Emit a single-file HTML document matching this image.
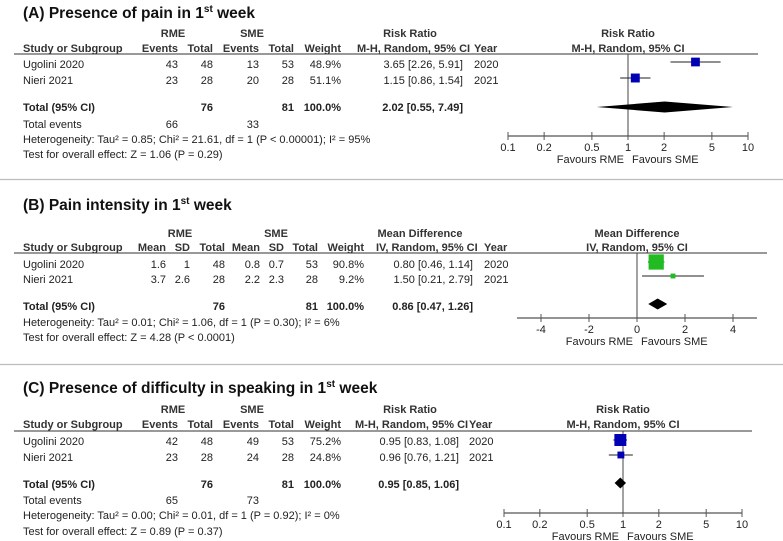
<!DOCTYPE html>
<html><head><meta charset="utf-8"><style>
html,body{margin:0;padding:0;background:#fff}
svg{display:block}
text{font-family:"Liberation Sans",Arial,sans-serif;font-size:11px;fill:#222}
.b{font-weight:bold}
.t{font-size:15.5px;font-weight:bold;fill:#111}
.h{font-weight:bold;fill:#333}
</style></head><body>
<svg id="fp" width="783" height="541" viewBox="0 0 783 541" xmlns="http://www.w3.org/2000/svg">
<line x1="0" y1="179.5" x2="783" y2="179.5" stroke="#bbb" stroke-width="1.2"/>
<line x1="0" y1="364.5" x2="783" y2="364.5" stroke="#bbb" stroke-width="1.2"/>

<g>
<text class="t" x="23" y="18">(A) Presence of pain in 1<tspan font-size="10" dy="-6">st</tspan><tspan dy="6"> week</tspan></text>
<text class="h" x="173" y="37" text-anchor="middle">RME</text>
<text class="h" x="252" y="37" text-anchor="middle">SME</text>
<text class="h" x="410" y="37" text-anchor="middle">Risk Ratio</text>
<text class="h" x="628" y="37" text-anchor="middle">Risk Ratio</text>
<text class="h" x="23" y="52">Study or Subgroup</text>
<text class="h" x="178" y="52" text-anchor="end">Events</text>
<text class="h" x="213" y="52" text-anchor="end">Total</text>
<text class="h" x="259" y="52" text-anchor="end">Events</text>
<text class="h" x="294" y="52" text-anchor="end">Total</text>
<text class="h" x="341" y="52" text-anchor="end">Weight</text>
<text class="h" x="357" y="52">M-H, Random, 95% CI</text>
<text class="h" x="474" y="52">Year</text>
<text class="h" x="628" y="52" text-anchor="middle">M-H, Random, 95% CI</text>
<line x1="14" y1="54" x2="758" y2="54" stroke="#333" stroke-width="1"/>
<text x="23" y="68">Ugolini 2020</text><text x="178" y="68" text-anchor="end">43</text><text x="213" y="68" text-anchor="end">48</text><text x="259" y="68" text-anchor="end">13</text><text x="294" y="68" text-anchor="end">53</text><text x="341" y="68" text-anchor="end">48.9%</text><text x="463" y="68" text-anchor="end">3.65 [2.26, 5.91]</text><text x="474" y="68">2020</text>
<text x="23" y="84">Nieri 2021</text><text x="178" y="84" text-anchor="end">23</text><text x="213" y="84" text-anchor="end">28</text><text x="259" y="84" text-anchor="end">20</text><text x="294" y="84" text-anchor="end">28</text><text x="341" y="84" text-anchor="end">51.1%</text><text x="463" y="84" text-anchor="end">1.15 [0.86, 1.54]</text><text x="474" y="84">2021</text>
<text class="b" x="23" y="111">Total (95% CI)</text><text class="b" x="213" y="111" text-anchor="end">76</text><text class="b" x="294" y="111" text-anchor="end">81</text><text class="b" x="341" y="111" text-anchor="end">100.0%</text><text class="b" x="463" y="111" text-anchor="end">2.02 [0.55, 7.49]</text>
<text x="23" y="128">Total events</text><text x="178" y="128" text-anchor="end">66</text><text x="259" y="128" text-anchor="end">33</text>
<text x="23" y="143">Heterogeneity: Tau² = 0.85; Chi² = 21.61, df = 1 (P &lt; 0.00001); I² = 95%</text>
<text x="23" y="158">Test for overall effect: Z = 1.06 (P = 0.29)</text>
<g id="plotA"></g>
</g>

<g>
<text class="t" x="23" y="210">(B) Pain intensity in 1<tspan font-size="10" dy="-6">st</tspan><tspan dy="6"> week</tspan></text>
<text class="h" x="180" y="237" text-anchor="middle">RME</text>
<text class="h" x="276" y="237" text-anchor="middle">SME</text>
<text class="h" x="420" y="237" text-anchor="middle">Mean Difference</text>
<text class="h" x="637" y="237" text-anchor="middle">Mean Difference</text>
<text class="h" x="23" y="251">Study or Subgroup</text>
<text class="h" x="166" y="251" text-anchor="end">Mean</text>
<text class="h" x="190" y="251" text-anchor="end">SD</text>
<text class="h" x="225" y="251" text-anchor="end">Total</text>
<text class="h" x="260" y="251" text-anchor="end">Mean</text>
<text class="h" x="284" y="251" text-anchor="end">SD</text>
<text class="h" x="318" y="251" text-anchor="end">Total</text>
<text class="h" x="364" y="251" text-anchor="end">Weight</text>
<text class="h" x="376" y="251">IV, Random, 95% CI</text>
<text class="h" x="484" y="251">Year</text>
<text class="h" x="637" y="251" text-anchor="middle">IV, Random, 95% CI</text>
<line x1="14" y1="253" x2="767" y2="253" stroke="#333" stroke-width="1"/>
<text x="23" y="268">Ugolini 2020</text><text x="166" y="268" text-anchor="end">1.6</text><text x="190" y="268" text-anchor="end">1</text><text x="225" y="268" text-anchor="end">48</text><text x="260" y="268" text-anchor="end">0.8</text><text x="284" y="268" text-anchor="end">0.7</text><text x="318" y="268" text-anchor="end">53</text><text x="364" y="268" text-anchor="end">90.8%</text><text x="473" y="268" text-anchor="end">0.80 [0.46, 1.14]</text><text x="484" y="268">2020</text>
<text x="23" y="283">Nieri 2021</text><text x="166" y="283" text-anchor="end">3.7</text><text x="190" y="283" text-anchor="end">2.6</text><text x="225" y="283" text-anchor="end">28</text><text x="260" y="283" text-anchor="end">2.2</text><text x="284" y="283" text-anchor="end">2.3</text><text x="318" y="283" text-anchor="end">28</text><text x="364" y="283" text-anchor="end">9.2%</text><text x="473" y="283" text-anchor="end">1.50 [0.21, 2.79]</text><text x="484" y="283">2021</text>
<text class="b" x="23" y="310">Total (95% CI)</text><text class="b" x="225" y="310" text-anchor="end">76</text><text class="b" x="318" y="310" text-anchor="end">81</text><text class="b" x="364" y="310" text-anchor="end">100.0%</text><text class="b" x="473" y="310" text-anchor="end">0.86 [0.47, 1.26]</text>
<text x="23" y="326">Heterogeneity: Tau² = 0.01; Chi² = 1.06, df = 1 (P = 0.30); I² = 6%</text>
<text x="23" y="341">Test for overall effect: Z = 4.28 (P &lt; 0.0001)</text>
<g id="plotB"></g>
</g>

<g>
<text class="t" x="23" y="393">(C) Presence of difficulty in speaking in 1<tspan font-size="10" dy="-6">st</tspan><tspan dy="6"> week</tspan></text>
<text class="h" x="173" y="413" text-anchor="middle">RME</text>
<text class="h" x="252" y="413" text-anchor="middle">SME</text>
<text class="h" x="410" y="413" text-anchor="middle">Risk Ratio</text>
<text class="h" x="623" y="413" text-anchor="middle">Risk Ratio</text>
<text class="h" x="23" y="428">Study or Subgroup</text>
<text class="h" x="178" y="428" text-anchor="end">Events</text>
<text class="h" x="213" y="428" text-anchor="end">Total</text>
<text class="h" x="259" y="428" text-anchor="end">Events</text>
<text class="h" x="294" y="428" text-anchor="end">Total</text>
<text class="h" x="341" y="428" text-anchor="end">Weight</text>
<text class="h" x="355" y="428">M-H, Random, 95% CI</text>
<text class="h" x="469" y="428">Year</text>
<text class="h" x="623" y="428" text-anchor="middle">M-H, Random, 95% CI</text>
<line x1="14" y1="431" x2="752" y2="431" stroke="#333" stroke-width="1"/>
<text x="23" y="445">Ugolini 2020</text><text x="178" y="445" text-anchor="end">42</text><text x="213" y="445" text-anchor="end">48</text><text x="259" y="445" text-anchor="end">49</text><text x="294" y="445" text-anchor="end">53</text><text x="341" y="445" text-anchor="end">75.2%</text><text x="459" y="445" text-anchor="end">0.95 [0.83, 1.08]</text><text x="469" y="445">2020</text>
<text x="23" y="461">Nieri 2021</text><text x="178" y="461" text-anchor="end">23</text><text x="213" y="461" text-anchor="end">28</text><text x="259" y="461" text-anchor="end">24</text><text x="294" y="461" text-anchor="end">28</text><text x="341" y="461" text-anchor="end">24.8%</text><text x="459" y="461" text-anchor="end">0.96 [0.76, 1.21]</text><text x="469" y="461">2021</text>
<text class="b" x="23" y="488">Total (95% CI)</text><text class="b" x="213" y="488" text-anchor="end">76</text><text class="b" x="294" y="488" text-anchor="end">81</text><text class="b" x="341" y="488" text-anchor="end">100.0%</text><text class="b" x="459" y="488" text-anchor="end">0.95 [0.85, 1.06]</text>
<text x="23" y="504">Total events</text><text x="178" y="504" text-anchor="end">65</text><text x="259" y="504" text-anchor="end">73</text>
<text x="23" y="519">Heterogeneity: Tau² = 0.00; Chi² = 0.01, df = 1 (P = 0.92); I² = 0%</text>
<text x="23" y="535">Test for overall effect: Z = 0.89 (P = 0.37)</text>
<g id="plotC"></g>
</g>
</svg>
<script>
// Panel A data (risk ratio)
const aEst = [3.65, 1.15];
const aLo = [2.26, 0.86];
const aHi = [5.91, 1.54];
const aWeight = [48.9, 51.1];
const aTotal = [2.02, 0.55, 7.49];
const rrTicks = [0.1, 0.2, 0.5, 1, 2, 5, 10];
const rrTickLabels = ["0.1", "0.2", "0.5", "1", "2", "5", "10"];
// Panel B data (mean difference)
const bEst = [0.80, 1.50];
const bLo = [0.46, 0.21];
const bHi = [1.14, 2.79];
const bWeight = [90.8, 9.2];
const bTotal = [0.86, 0.47, 1.26];
const mdTicks = [-4, -2, 0, 2, 4];
const mdTickLabels = ["-4", "-2", "0", "2", "4"];
// Panel C data (risk ratio)
const cEst = [0.95, 0.96];
const cLo = [0.83, 0.76];
const cHi = [1.08, 1.21];
const cWeight = [75.2, 24.8];
const cTotal = [0.95, 0.85, 1.06];

const NS = "http://www.w3.org/2000/svg";
function mk(parent, tag, attrs){
  const e = document.createElementNS(NS, tag);
  for (const k in attrs) e.setAttribute(k, attrs[k]);
  parent.appendChild(e);
  return e;
}
function drawPlot(cfg){
  const g = document.getElementById(cfg.id);
  const sx = cfg.scale;
  const ax = mk(g, "line", {x1: cfg.axX0, y1: cfg.axY, x2: cfg.axX1, y2: cfg.axY, stroke: "#555", "stroke-width": 1.2});
  
  
  cfg.ticks.forEach((t, i) => {
    const tl = mk(g, "line", {x1: sx(t), y1: cfg.axY - 4, x2: sx(t), y2: cfg.axY + 4, stroke: "#555", "stroke-width": 1});
    
    
    const tx = mk(g, "text", {x: sx(t), y: cfg.axY + 15, "text-anchor": "middle"});
    tx.textContent = cfg.labels[i];
    
    
  });
  const ref = mk(g, "line", {x1: sx(cfg.nullV), y1: cfg.top, x2: sx(cfg.nullV), y2: cfg.axY, stroke: "#444", "stroke-width": 1});
  
  
  const f1 = mk(g, "text", {x: sx(cfg.nullV) - 4, y: cfg.axY + 27, "text-anchor": "end"});
  f1.textContent = "Favours RME";
  
  
  const f2 = mk(g, "text", {x: sx(cfg.nullV) + 4, y: cfg.axY + 27});
  f2.textContent = "Favours SME";
  
  
  cfg.est.forEach((v, i) => {
    const y = cfg.rows[i];
    const ci = mk(g, "line", {x1: sx(cfg.lo[i]), y1: y, x2: sx(cfg.hi[i]), y2: y, stroke: "#222", "stroke-width": 1});
    
    
    const s = Math.max(2, cfg.sizeK * Math.sqrt(cfg.w[i]));
    const sq = mk(g, "rect", {x: sx(v) - s / 2, y: y - s / 2, width: s, height: s, fill: cfg.color});
    
    
  });
  const [m, l, h] = cfg.total;
  const dy = cfg.diaY;
  const d = mk(g, "polygon", {points: `${sx(l)},${dy} ${sx(m)},${dy - 5.5} ${sx(h)},${dy} ${sx(m)},${dy + 5.5}`, fill: "#000"});
  
  
}
function logScale(x0, x1){ return v => x0 + (Math.log10(v) + 1) / 2 * (x1 - x0); }
drawPlot({id: "plotA", scale: logScale(508, 748), ticks: rrTicks, labels: rrTickLabels, axX0: 508, axX1: 748, axY: 136, top: 54, nullV: 1,
  est: aEst, lo: aLo, hi: aHi, w: aWeight, rows: [62, 78], sizeK: 1.25, color: "#0000b4", total: aTotal, diaY: 107});
drawPlot({id: "plotB", scale: v => 637 + v * 24, ticks: mdTicks, labels: mdTickLabels, axX0: 517, axX1: 757, axY: 318, top: 253, nullV: 0,
  est: bEst, lo: bLo, hi: bHi, w: bWeight, rows: [262, 276], sizeK: 1.6, color: "#22bb22", total: bTotal, diaY: 304});
drawPlot({id: "plotC", scale: logScale(504, 742), ticks: rrTicks, labels: rrTickLabels, axX0: 504, axX1: 742, axY: 513, top: 431, nullV: 1,
  est: cEst, lo: cLo, hi: cHi, w: cWeight, rows: [440, 455], sizeK: 1.38, color: "#0000b4", total: cTotal, diaY: 483});
</script>
</body></html>
